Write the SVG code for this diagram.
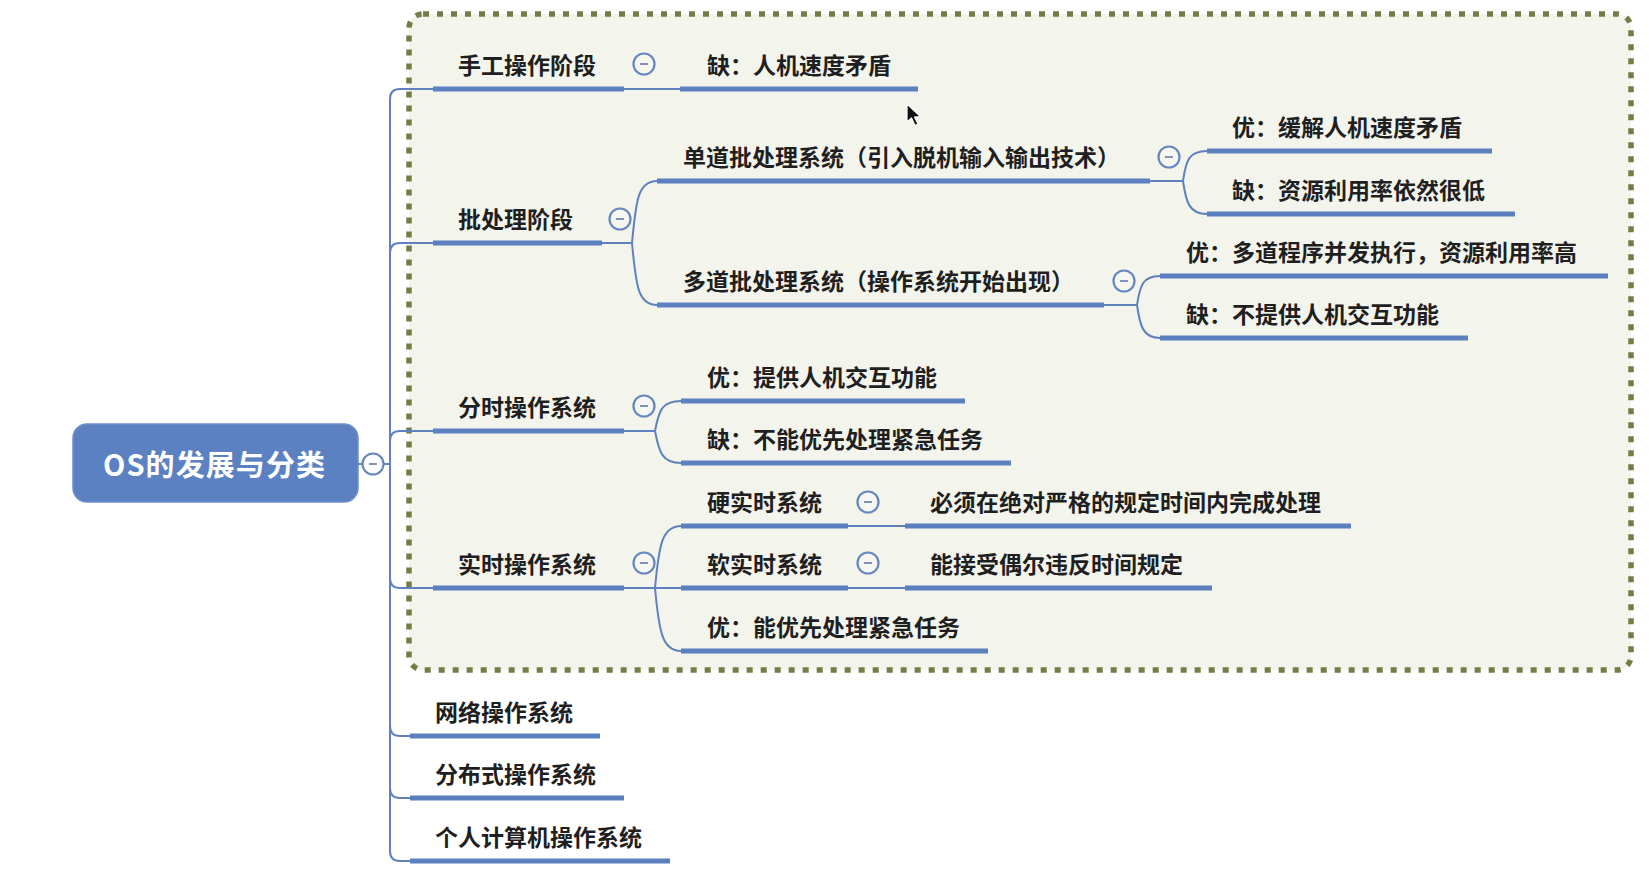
<svg xmlns="http://www.w3.org/2000/svg" width="1649" height="891" viewBox="0 0 1649 891">
<defs>
<style>
.lbl{font-family:"Noto Sans CJK SC","Noto Sans",sans-serif;font-size:23px;font-weight:bold;fill:#1f1f1f}
.ul{stroke:#5b7fbf;stroke-width:5;fill:none}
.cn{stroke:#5f82bf;stroke-width:2;fill:none}
.btn{fill:#f6f7f1;stroke:#6787c0;stroke-width:2.2}
.minus{stroke:#8193b6;stroke-width:2}
</style>
</defs>
<rect width="1649" height="891" fill="#ffffff"/>
<rect id="boundary" x="409" y="14" width="1222" height="656" rx="14" fill="#f3f4ec" stroke="#737e47" stroke-width="5.5" stroke-dasharray="6 8"/>

<g id="connectors">
<path class="cn" d="M358 464 H363 M383.5 464 H390"/>
<path class="cn" d="M390 464 V99 Q390 89 400 89 H433"/>
<path class="cn" d="M390 464 V253 Q390 243 400 243 H433"/>
<path class="cn" d="M390 464 V441 Q390 431 400 431 H433"/>
<path class="cn" d="M390 464 V578 Q390 588 400 588 H433"/>
<path class="cn" d="M390 464 V726 Q390 736 400 736 H410"/>
<path class="cn" d="M390 464 V788 Q390 798 400 798 H410"/>
<path class="cn" d="M390 464 V851 Q390 861 400 861 H410"/>
<path class="cn" d="M624 89 H680"/>
<path class="cn" d="M602 243 H632 M632 243 C636 200 638 181 657 181 M632 243 C636 286 638 305 657 305"/>
<path class="cn" d="M1150 181 H1183 M1183 181 C1186 160 1189 151 1207 151 M1183 181 C1186 202 1189 214 1207 214"/>
<path class="cn" d="M1104 305 H1137 M1137 305 C1140 285 1143 276 1160 276 M1137 305 C1140 326 1143 338 1160 338"/>
<path class="cn" d="M624 431 H655 M655 431 C659 410 662 401 681 401 M655 431 C659 452 662 463 681 463"/>
<path class="cn" d="M624 588 H681 M655 588 C659 545 662 526 681 526 M655 588 C659 631 662 651 681 651"/>
<path class="cn" d="M848 526 H905"/>
<path class="cn" d="M848 588 H905"/>
</g>

<g id="root">
<rect x="73" y="424" width="285" height="78" rx="14" fill="#5b81c2" stroke="#6f8fca" stroke-width="1.5"/>
<text x="103" y="476" textLength="222" lengthAdjust="spacing" font-family="'Noto Sans CJK SC','Noto Sans',sans-serif" font-size="29" font-weight="bold" fill="#ffffff">OS的发展与分类</text>
<circle class="btn" cx="373" cy="464" r="10.5" style="fill:#ffffff"/><line class="minus" x1="369" y1="464" x2="377" y2="464"/>
</g>

<g id="n-manual">
<line class="ul" x1="433" y1="89" x2="624" y2="89"/>
<text class="lbl" x="458" y="74">手工操作阶段</text>
<circle class="btn" cx="644" cy="64" r="10.5"/><line class="minus" x1="640" y1="64" x2="648" y2="64"/>
</g>
<g id="n-manual-con">
<line class="ul" x1="680" y1="89" x2="918" y2="89"/>
<text class="lbl" x="707" y="74">缺：人机速度矛盾</text>
</g>

<g id="n-batch">
<line class="ul" x1="433" y1="243" x2="602" y2="243"/>
<text class="lbl" x="458" y="228">批处理阶段</text>
<circle class="btn" cx="620" cy="219" r="10.5"/><line class="minus" x1="616" y1="219" x2="624" y2="219"/>
</g>
<g id="n-single">
<line class="ul" x1="657" y1="181" x2="1150" y2="181"/>
<text class="lbl" x="683" y="166">单道批处理系统（引入脱机输入输出技术）</text>
<circle class="btn" cx="1169" cy="157" r="10.5"/><line class="minus" x1="1165" y1="157" x2="1173" y2="157"/>
</g>
<g id="n-single-pro">
<line class="ul" x1="1207" y1="151" x2="1492" y2="151"/>
<text class="lbl" x="1232" y="136">优：缓解人机速度矛盾</text>
</g>
<g id="n-single-con">
<line class="ul" x1="1207" y1="214" x2="1515" y2="214"/>
<text class="lbl" x="1232" y="199">缺：资源利用率依然很低</text>
</g>
<g id="n-multi">
<line class="ul" x1="657" y1="305" x2="1104" y2="305"/>
<text class="lbl" x="683" y="290">多道批处理系统（操作系统开始出现）</text>
<circle class="btn" cx="1124" cy="281" r="10.5"/><line class="minus" x1="1120" y1="281" x2="1128" y2="281"/>
</g>
<g id="n-multi-pro">
<line class="ul" x1="1160" y1="276" x2="1608" y2="276"/>
<text class="lbl" x="1186" y="261">优：多道程序并发执行，资源利用率高</text>
</g>
<g id="n-multi-con">
<line class="ul" x1="1160" y1="338" x2="1468" y2="338"/>
<text class="lbl" x="1186" y="323">缺：不提供人机交互功能</text>
</g>

<g id="n-timeshare">
<line class="ul" x1="433" y1="431" x2="624" y2="431"/>
<text class="lbl" x="458" y="416">分时操作系统</text>
<circle class="btn" cx="644" cy="406" r="10.5"/><line class="minus" x1="640" y1="406" x2="648" y2="406"/>
</g>
<g id="n-timeshare-pro">
<line class="ul" x1="681" y1="401" x2="965" y2="401"/>
<text class="lbl" x="707" y="386">优：提供人机交互功能</text>
</g>
<g id="n-timeshare-con">
<line class="ul" x1="681" y1="463" x2="1011" y2="463"/>
<text class="lbl" x="707" y="448">缺：不能优先处理紧急任务</text>
</g>

<g id="n-realtime">
<line class="ul" x1="433" y1="588" x2="624" y2="588"/>
<text class="lbl" x="458" y="573">实时操作系统</text>
<circle class="btn" cx="644" cy="563" r="10.5"/><line class="minus" x1="640" y1="563" x2="648" y2="563"/>
</g>
<g id="n-hard">
<line class="ul" x1="681" y1="526" x2="848" y2="526"/>
<text class="lbl" x="707" y="511">硬实时系统</text>
<circle class="btn" cx="868" cy="502" r="10.5"/><line class="minus" x1="864" y1="502" x2="872" y2="502"/>
</g>
<g id="n-hard-desc">
<line class="ul" x1="905" y1="526" x2="1351" y2="526"/>
<text class="lbl" x="930" y="511">必须在绝对严格的规定时间内完成处理</text>
</g>
<g id="n-soft">
<line class="ul" x1="681" y1="588" x2="848" y2="588"/>
<text class="lbl" x="707" y="573">软实时系统</text>
<circle class="btn" cx="868" cy="563" r="10.5"/><line class="minus" x1="864" y1="563" x2="872" y2="563"/>
</g>
<g id="n-soft-desc">
<line class="ul" x1="905" y1="588" x2="1212" y2="588"/>
<text class="lbl" x="930" y="573">能接受偶尔违反时间规定</text>
</g>
<g id="n-realtime-pro">
<line class="ul" x1="681" y1="651" x2="988" y2="651"/>
<text class="lbl" x="707" y="636">优：能优先处理紧急任务</text>
</g>

<g id="n-network">
<line class="ul" x1="410" y1="736" x2="600" y2="736"/>
<text class="lbl" x="435" y="721">网络操作系统</text>
</g>
<g id="n-distributed">
<line class="ul" x1="410" y1="798" x2="624" y2="798"/>
<text class="lbl" x="435" y="783">分布式操作系统</text>
</g>
<g id="n-pc">
<line class="ul" x1="410" y1="861" x2="670" y2="861"/>
<text class="lbl" x="435" y="846">个人计算机操作系统</text>
</g>

<g id="cursor">
<path d="M907 104 L907 122 L911.5 118 L915 125.5 L918 124 L914.5 117 L920.5 116.5 Z" fill="#111111" stroke="#ffffff" stroke-width="1.2" stroke-linejoin="round"/>
</g>
</svg>
